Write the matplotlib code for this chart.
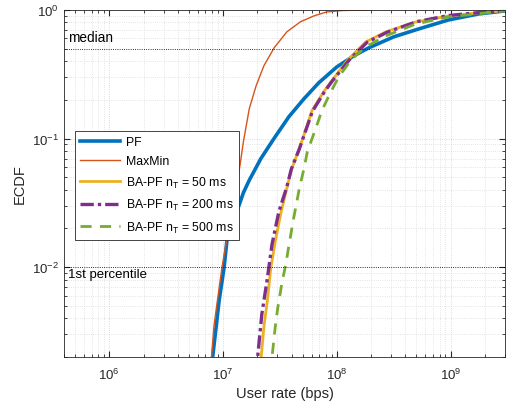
import matplotlib
matplotlib.use('Agg')
import matplotlib.pyplot as plt
import numpy as np

plt.rcParams['font.family'] = ['Liberation Sans', 'DejaVu Sans']
plt.rcParams['mathtext.fontset'] = 'custom'
plt.rcParams['mathtext.rm'] = 'Liberation Sans'
plt.rcParams['mathtext.default'] = 'regular'

# ECDF values (rate in bps, cumulative probability)
pf_rate = [7.8e6, 8.71e6, 9.23e6, 1.02e7, 1.08e7, 1.17e7, 1.32e7, 1.51e7, 1.69e7,
           2.15e7, 2.80e7, 3.79e7, 5.14e7, 6.95e7, 1.0e8, 1.41e8, 1.91e8,
           3.16e8, 5.24e8, 9.55e8, 1.76e9, 2.92e9, 3.5e9]
pf_cdf = [0.0015, 0.0035, 0.0055, 0.0099, 0.016, 0.019, 0.027, 0.038, 0.047,
          0.070, 0.100, 0.148, 0.204, 0.272, 0.361, 0.440, 0.508,
          0.618, 0.712, 0.836, 0.931, 0.98, 1.0]

mm_rate = [7.7e6, 8.32e6, 8.91e6, 9.77e6, 1.07e7, 1.17e7, 1.29e7, 1.38e7, 1.51e7,
           1.70e7, 1.95e7, 2.29e7, 2.82e7, 3.63e7, 4.79e7, 6.31e7, 8.13e7, 1.12e8, 2.0e8]
mm_cdf = [0.0015, 0.0035, 0.0055, 0.0099, 0.016, 0.027, 0.041, 0.055, 0.095,
          0.171, 0.257, 0.37, 0.51, 0.675, 0.81, 0.90, 0.965, 0.99, 1.0]

ba50_rate = [2.1e7, 2.29e7, 2.45e7, 2.63e7, 2.88e7, 3.24e7, 3.63e7, 3.98e7, 4.68e7,
             5.37e7, 6.04e7, 7.76e7, 9.04e7, 1.27e8, 1.80e8, 2.69e8, 4.93e8,
             9.55e8, 1.86e9, 2.88e9, 3.5e9]
ba50_cdf = [0.0015, 0.0035, 0.0055, 0.0099, 0.016, 0.027, 0.041, 0.057, 0.084,
            0.12, 0.165, 0.235, 0.282, 0.417, 0.565, 0.675, 0.807,
            0.898, 0.955, 0.985, 1.0]

ba200_rate = [1.95e7, 2.19e7, 2.45e7, 2.69e7, 3.09e7, 3.63e7, 3.98e7, 4.68e7, 5.37e7,
              6.1e7, 7.8e7, 9.1e7, 1.29e8, 1.84e8, 2.75e8, 5.0e8, 9.55e8,
              1.86e9, 2.88e9, 3.5e9]
ba200_cdf = [0.0015, 0.0043, 0.0082, 0.015, 0.027, 0.042, 0.058, 0.083, 0.118,
             0.163, 0.232, 0.28, 0.41, 0.56, 0.67, 0.81, 0.905,
             0.958, 0.99, 1.0]

ba500_rate = [2.6e7, 2.88e7, 3.02e7, 3.31e7, 3.55e7, 3.80e7, 4.17e7, 4.68e7, 5.13e7,
              5.50e7, 6.61e7, 7.38e7, 8.7e7, 1.04e8, 1.36e8, 1.80e8, 2.69e8, 4.93e8,
              9.55e8, 1.86e9, 2.88e9, 3.5e9]
ba500_cdf = [0.0015, 0.0035, 0.0048, 0.0078, 0.0104, 0.015, 0.024, 0.041, 0.058,
             0.079, 0.124, 0.165, 0.224, 0.303, 0.417, 0.517, 0.629, 0.778,
             0.883, 0.94, 0.98, 1.0]

fig = plt.figure(figsize=(5.08, 4.06), dpi=100)
ax = fig.add_axes([0.126, 0.118, 0.868, 0.855])

ax.plot(pf_rate, pf_cdf, color='#0072BD', lw=2.6, label='PF')
ax.plot(mm_rate, mm_cdf, color='#D95319', lw=1.0, label='MaxMin')
ax.plot(ba50_rate, ba50_cdf, color='#EDB120', lw=2.0, label='BA-PF n$_T$ = 50 ms')
ax.plot(ba200_rate, ba200_cdf, color='#7E2F8E', lw=2.4, ls=(0, (4, 1.2, 1, 1.2)),
        label='BA-PF n$_T$ = 200 ms')
ax.plot(ba500_rate, ba500_cdf, color='#77AC30', lw=2.0, ls=(0, (4, 3)),
        label='BA-PF n$_T$ = 500 ms')

ax.set_xscale('log')
ax.set_yscale('log')
ax.set_xlim(4e5, 3e9)
ax.set_ylim(0.002, 1)

ax.axhline(0.5, color='k', ls=':', lw=0.6)
ax.axhline(0.01, color='k', ls=':', lw=0.6)
ax.text(4.3e5, 0.54, 'median', fontsize=9.8, va='bottom', ha='left')
ax.text(4.3e5, 0.0099, '1st percentile', fontsize=9.5, va='top', ha='left')

ax.grid(True, which='major', color='#cfcfcf', ls=':', lw=0.6)
ax.grid(True, which='minor', color='#dcdcdc', ls=':', lw=0.6)
ax.tick_params(which='both', direction='in', top=True, right=True,
               colors='#262626', labelsize=9.5)
ax.tick_params(axis='x', which='major', pad=7)
ax.tick_params(which='major', length=4)
ax.tick_params(which='minor', length=2)
for s in ax.spines.values():
    s.set_color('#262626')
    s.set_linewidth(0.6)

ax.set_xlabel('User rate (bps)', fontsize=10.5, color='#262626', labelpad=3)
ax.set_ylabel('ECDF', fontsize=10.5, color='#262626')

leg = ax.legend(loc='upper left', bbox_to_anchor=(0.025, 0.651), fontsize=8.8,
                handlelength=3.3, handletextpad=0.5, fancybox=False, framealpha=1,
                edgecolor='#262626', borderaxespad=0, labelspacing=0.6)
leg.get_frame().set_linewidth(0.6)

fig.savefig('out.png', dpi=100)
